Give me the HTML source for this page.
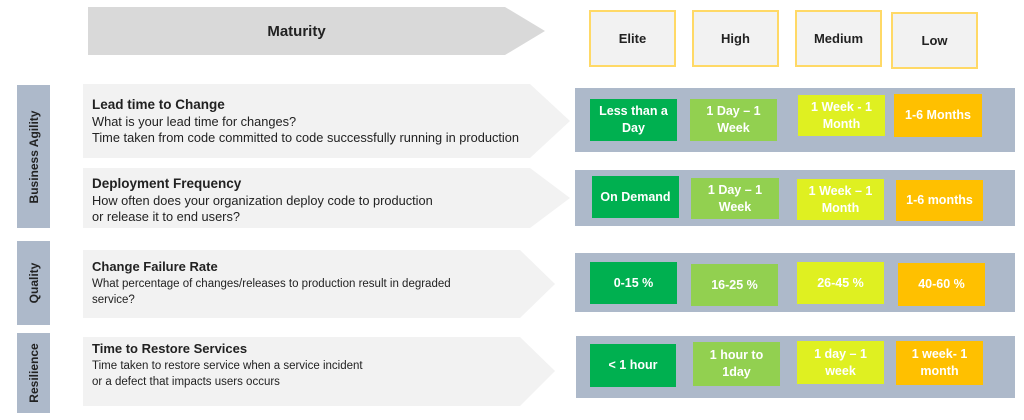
<!DOCTYPE html>
<html><head><style>
body{margin:0;width:1024px;height:420px;background:#fff;position:relative;overflow:hidden;font-family:"Liberation Sans",sans-serif;}
.a{position:absolute}
.h{position:absolute;background:#f2f2f2;border:2px solid #ffd966;box-sizing:border-box;display:flex;align-items:center;justify-content:center;font-weight:bold;font-size:13px;color:#222}
.c{position:absolute;display:flex;align-items:center;justify-content:center;text-align:center;color:#fff;font-weight:bold;font-size:12.5px;line-height:17px;box-sizing:border-box;padding:0 3px}
.g{background:#00b050}.l{background:#92d050}.y{background:#dff021}.o{background:#ffc000}
.p{position:absolute;background:#adb9ca}
.s{position:absolute;background:#adb9ca;left:17px;width:33px}
.s span{position:absolute;left:50%;top:50%;transform:translate(-50%,-50%) rotate(-90deg);white-space:nowrap;font-weight:bold;font-size:12px;color:#222}
.t{position:absolute;font-size:11.5px;line-height:16px;color:#222}
.t b{font-size:13px;display:block;line-height:18px}
.t.w{font-size:12.8px;line-height:15.5px}
.t.w b{font-size:13.5px}
</style></head><body>
<svg class="a" style="left:0;top:0" width="1024" height="420">
<polygon points="88,7 505,7 545,31 505,55 88,55" fill="#d9d9d9"/>
<polygon points="83,84 530,84 570,121 530,158 83,158" fill="#f2f2f2"/>
<polygon points="83,168 530,168 570,198 530,228 83,228" fill="#f2f2f2"/>
<polygon points="83,250 520,250 555,284 520,318 83,318" fill="#f2f2f2"/>
<polygon points="83,337 520,337 555,371 520,406 83,406" fill="#f2f2f2"/>
</svg>
<div class="a" style="left:88px;top:7px;width:457px;height:48px;display:flex;align-items:center;justify-content:center;font-weight:bold;font-size:15px;color:#222;padding-right:40px;box-sizing:border-box">Maturity</div>
<div class="h" style="left:589px;top:10px;width:87px;height:57px">Elite</div>
<div class="h" style="left:692px;top:10px;width:87px;height:57px">High</div>
<div class="h" style="left:795px;top:10px;width:87px;height:57px">Medium</div>
<div class="h" style="left:891px;top:12px;width:87px;height:57px">Low</div>

<div class="s" style="top:85px;height:143px"><span>Business Agility</span></div>
<div class="s" style="top:241px;height:84px"><span>Quality</span></div>
<div class="s" style="top:333px;height:80px"><span>Resilience</span></div>

<div class="t w" style="left:92px;top:96px"><b>Lead time to Change</b>What is your lead time for changes?<br>Time taken from code committed to code successfully running in production</div>
<div class="t w" style="left:92px;top:175px"><b>Deployment Frequency</b>How often does your organization deploy code to production<br>or release it to end users?</div>
<div class="t" style="left:92px;top:258px"><b>Change Failure Rate</b>What percentage of changes/releases to production result in degraded<br>service?</div>
<div class="t" style="left:92px;top:340px"><b>Time to Restore Services</b>Time taken to restore service when a service incident<br>or a defect that impacts users occurs</div>

<div class="p" style="left:575px;top:88px;width:440px;height:64px"></div>
<div class="p" style="left:575px;top:170px;width:440px;height:56px"></div>
<div class="p" style="left:575px;top:253px;width:440px;height:59px"></div>
<div class="p" style="left:576px;top:336px;width:439px;height:62px"></div>

<div class="c g" style="left:590px;top:99px;width:87px;height:42px">Less than a Day</div>
<div class="c l" style="left:690px;top:99px;width:87px;height:42px">1 Day – 1 Week</div>
<div class="c y" style="left:798px;top:95px;width:87px;height:41px">1 Week - 1 Month</div>
<div class="c o" style="left:894px;top:94px;width:88px;height:43px">1-6 Months</div>

<div class="c g" style="left:592px;top:176px;width:87px;height:42px">On Demand</div>
<div class="c l" style="left:691px;top:178px;width:88px;height:41px">1 Day – 1 Week</div>
<div class="c y" style="left:797px;top:179px;width:87px;height:41px">1 Week – 1 Month</div>
<div class="c o" style="left:896px;top:180px;width:87px;height:41px">1-6 months</div>

<div class="c g" style="left:590px;top:262px;width:87px;height:42px">0-15 %</div>
<div class="c l" style="left:691px;top:264px;width:87px;height:42px">16-25 %</div>
<div class="c y" style="left:797px;top:262px;width:87px;height:42px">26-45 %</div>
<div class="c o" style="left:898px;top:263px;width:87px;height:43px">40-60 %</div>

<div class="c g" style="left:590px;top:344px;width:86px;height:43px">&lt; 1 hour</div>
<div class="c l" style="left:693px;top:342px;width:87px;height:44px">1 hour to 1day</div>
<div class="c y" style="left:797px;top:341px;width:87px;height:43px">1 day – 1 week</div>
<div class="c o" style="left:896px;top:341px;width:87px;height:44px">1 week- 1 month</div>
</body></html>
